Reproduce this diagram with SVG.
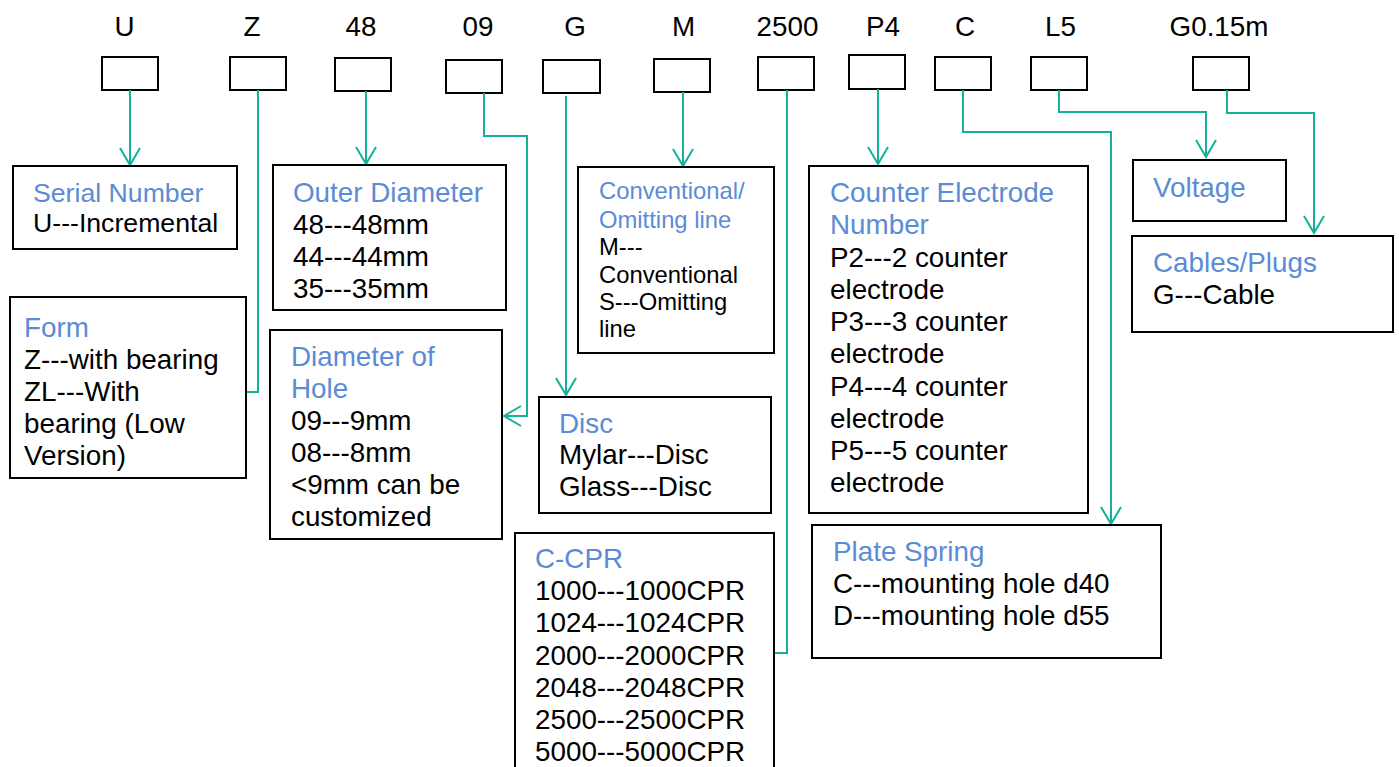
<svg xmlns="http://www.w3.org/2000/svg" width="1399" height="767" viewBox="0 0 1399 767">
<style>
text{font-family:"Liberation Sans",Arial,sans-serif;font-size:27.8px;fill:#000}
.t{fill:#5B8BD5}
.s{font-size:23.8px}
.n{font-size:26.67px}
.code{text-anchor:middle}
.box{fill:#fff;stroke:#000;stroke-width:2}
.c{fill:none;stroke:#14B09B;stroke-width:2}
</style>
<defs>
<marker id="arr" markerUnits="userSpaceOnUse" markerWidth="24" markerHeight="24" viewBox="-20 -12 24 24" refX="0" refY="0" orient="auto">
<path d="M-17,-10 L0,0 L-17,10" fill="none" stroke="#14B09B" stroke-width="2"/>
</marker>
</defs>
<rect width="1399" height="767" fill="#fff"/>

<g id="codes">
<text class="code" x="124.5" y="36">U</text>
<text class="code" x="252" y="36">Z</text>
<text class="code" x="361" y="36">48</text>
<text class="code" x="478" y="36">09</text>
<text class="code" x="575" y="36">G</text>
<text class="code" x="683.5" y="36">M</text>
<text class="code" x="787.5" y="36">2500</text>
<text class="code" x="883" y="36">P4</text>
<text class="code" x="965" y="36">C</text>
<text class="code" x="1060.5" y="36">L5</text>
<text class="code" x="1219" y="36">G0.15m</text>
<rect class="box" x="102" y="57" width="56" height="33"/>
<rect class="box" x="230" y="57" width="56" height="33"/>
<rect class="box" x="335" y="58" width="56" height="33"/>
<rect class="box" x="446" y="60" width="56" height="33"/>
<rect class="box" x="543" y="60" width="57" height="33"/>
<rect class="box" x="654" y="59" width="56" height="33"/>
<rect class="box" x="758" y="57" width="56" height="33"/>
<rect class="box" x="849" y="55" width="56" height="34"/>
<rect class="box" x="935" y="57" width="56" height="33"/>
<rect class="box" x="1031" y="57" width="56" height="33"/>
<rect class="box" x="1193" y="57" width="56" height="33"/>
</g>

<g id="connectors">
<path class="c" d="M130,90 V165" marker-end="url(#arr)"/>
<path class="c" d="M258,90 V392 H246"/>
<path class="c" d="M366,91 V164" marker-end="url(#arr)"/>
<path class="c" d="M484,93 V136 H527 V416 H504" marker-end="url(#arr)"/>
<path class="c" d="M566,96 V395" marker-end="url(#arr)"/>
<path class="c" d="M683,92 V166" marker-end="url(#arr)"/>
<path class="c" d="M787,90 V653 H774"/>
<path class="c" d="M878,89 V164" marker-end="url(#arr)"/>
<path class="c" d="M963,90 V132 H1111 V524" marker-end="url(#arr)"/>
<path class="c" d="M1059,90 V112 H1206 V157" marker-end="url(#arr)"/>
<path class="c" d="M1227,90 V113 H1314 V233" marker-end="url(#arr)"/>
</g>

<g id="serial">
<rect class="box" x="13" y="166" width="224" height="83"/>
<text class="t n" x="33" y="202">Serial Number</text>
<text class="n" x="33" y="232">U---Incremental</text>
</g>

<g id="outer">
<rect class="box" x="273" y="165" width="233" height="145"/>
<text class="t" x="293" y="202">Outer Diameter</text>
<text x="293" y="234">48---48mm</text>
<text x="293" y="266">44---44mm</text>
<text x="293" y="298">35---35mm</text>
</g>

<g id="form">
<rect class="box" x="10" y="297" width="236" height="181"/>
<text class="t" x="24" y="337">Form</text>
<text x="24" y="369">Z---with bearing</text>
<text x="24" y="401">ZL---With</text>
<text x="24" y="433">bearing (Low</text>
<text x="24" y="465">Version)</text>
</g>

<g id="hole">
<rect class="box" x="270" y="330" width="232" height="209"/>
<text class="t" x="291" y="366">Diameter of</text>
<text class="t" x="291" y="398">Hole</text>
<text x="291" y="430">09---9mm</text>
<text x="291" y="462">08---8mm</text>
<text x="291" y="494">&lt;9mm can be</text>
<text x="291" y="526">customized</text>
</g>

<g id="conventional">
<rect class="box" x="578" y="167" width="196" height="186"/>
<text class="t s" x="599" y="199">Conventional/</text>
<text class="t s" x="599" y="228">Omitting line</text>
<text class="s" x="599" y="255">M---</text>
<text class="s" x="599" y="283">Conventional</text>
<text class="s" x="599" y="310">S---Omitting</text>
<text class="s" x="599" y="337">line</text>
</g>

<g id="disc">
<rect class="box" x="539" y="397" width="232" height="116"/>
<text class="t" x="559" y="433">Disc</text>
<text x="559" y="464">Mylar---Disc</text>
<text x="559" y="496">Glass---Disc</text>
</g>

<g id="cpr">
<rect class="box" x="515" y="533" width="259" height="250"/>
<text class="t" x="535" y="568">C-CPR</text>
<text x="535" y="600">1000---1000CPR</text>
<text x="535" y="632">1024---1024CPR</text>
<text x="535" y="665">2000---2000CPR</text>
<text x="535" y="697">2048---2048CPR</text>
<text x="535" y="729">2500---2500CPR</text>
<text x="535" y="761">5000---5000CPR</text>
</g>

<g id="counter">
<rect class="box" x="809" y="166" width="279" height="347"/>
<text class="t" x="830" y="202">Counter Electrode</text>
<text class="t" x="830" y="234">Number</text>
<text x="830" y="267">P2---2 counter</text>
<text x="830" y="299">electrode</text>
<text x="830" y="331">P3---3 counter</text>
<text x="830" y="363">electrode</text>
<text x="830" y="396">P4---4 counter</text>
<text x="830" y="428">electrode</text>
<text x="830" y="460">P5---5 counter</text>
<text x="830" y="492">electrode</text>
</g>

<g id="plate">
<rect class="box" x="812" y="525" width="349" height="133"/>
<text class="t" x="833" y="561">Plate Spring</text>
<text x="833" y="593">C---mounting hole d40</text>
<text x="833" y="625">D---mounting hole d55</text>
</g>

<g id="voltage">
<rect class="box" x="1133" y="160" width="153" height="61"/>
<text class="t" x="1153" y="197">Voltage</text>
</g>

<g id="cables">
<rect class="box" x="1132" y="236" width="261" height="96"/>
<text class="t" x="1153" y="272">Cables/Plugs</text>
<text x="1153" y="304">G---Cable</text>
</g>
</svg>
